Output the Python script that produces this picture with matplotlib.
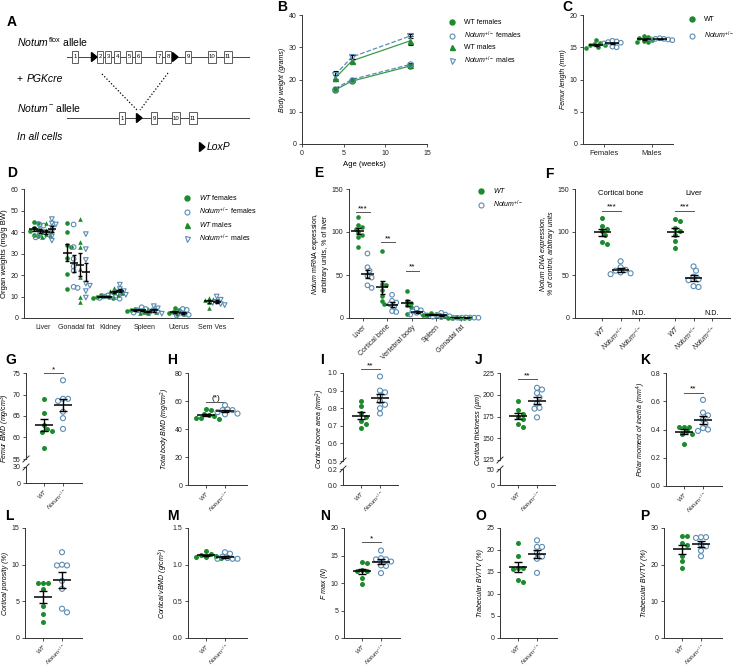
import numpy as np
import matplotlib
matplotlib.use("Agg")
import matplotlib.pyplot as plt
from matplotlib.lines import Line2D
from matplotlib.patches import Rectangle, Polygon
from matplotlib.ticker import FormatStrFormatter

plt.rcParams["font.family"] = "Liberation Sans"
plt.rcParams["mathtext.fontset"] = "custom"
plt.rcParams["mathtext.rm"] = "Liberation Sans"
plt.rcParams["mathtext.it"] = "Liberation Sans:italic"
plt.rcParams["mathtext.bf"] = "Liberation Sans:bold"

W, H = 736, 668
GREEN = "#1d8a2e"
BLUE = "#5b8db3"
LGREEN = "#3a9c48"
AXC = "#333333"
NOT = r"$\mathit{Notum}^{+/-}$"
NOTKO = r"$\mathit{Notum}^{-/-}$"

# ---------------- data ----------------
# A: allele schematic (exon labels and their positions along the gene line)
flox_exons = ["1", "2", "3", "4", "5", "6", "7", "8", "9", "10", "11"]
flox_pos = [75, 100, 108, 117, 129, 138, 159, 168, 188, 212, 228]
flox_loxp = [94, 175]
ko_exons = ["1", "9", "10", "11"]
ko_pos = [122, 154, 176, 193]
ko_loxp = [139]

# B: body weight (mean, SEM)
age_weeks = [4, 6, 13]
bw_wt_f = [16.8, 19.5, 24.2]
bw_wt_f_se = [0.5, 0.4, 0.6]
bw_ko_f = [17.2, 20.0, 24.7]
bw_ko_f_se = [0.4, 0.4, 0.5]
bw_wt_m = [20.5, 25.8, 32.0]
bw_wt_m_se = [1.0, 0.6, 1.4]
bw_ko_m = [21.5, 27.0, 33.5]
bw_ko_m_se = [1.2, 0.6, 0.6]

# C: femur length
sexes = ["Females", "Males"]
fl_wt = [[16.1, 15.6, 15.5, 15.4, 15.3, 15.0, 14.9],
         [16.7, 16.6, 16.4, 16.2, 16.0, 15.8, 15.8]]
fl_ko = [[16.0, 15.9, 15.8, 15.7, 15.6, 15.1, 15.0],
         [16.4, 16.3, 16.3, 16.2, 16.2, 16.1]]

# D: organ weights (mg/g BW)
organs = ["Liver", "Gonadal fat", "Kidney", "Spleen", "Uterus", "Sem Ves"]
ow_wt_f = [[44.5, 44.0, 42.0, 41.0, 40.5, 38.5, 38.0],
           [44.0, 40.0, 34.0, 33.0, 28.0, 20.5, 13.5],
           [10.8, 10.3, 10.0, 9.8, 9.5, 9.2],
           [4.0, 3.8, 3.6, 3.5, 3.3, 3.0],
           [4.5, 3.5, 2.8, 2.3, 2.0, 1.8],
           None]
ow_ko_f = [[43.5, 43.0, 41.0, 40.0, 39.0, 38.0, 37.5],
           [43.5, 33.0, 27.5, 24.0, 22.0, 14.5, 14.0],
           [10.5, 10.2, 10.0, 9.7, 9.3, 9.0],
           [5.0, 4.2, 3.6, 3.2, 2.8, 2.5],
           [4.2, 3.8, 2.5, 1.8, 1.5, 1.2],
           None]
ow_wt_m = [[44.0, 41.0, 40.5, 40.0, 39.0, 38.5, 37.5],
           [46.0, 35.5, 33.0, 23.0, 19.0, 10.0, 7.5],
           [14.0, 13.0, 12.5, 12.0, 11.5, 10.5],
           [4.0, 3.5, 3.0, 2.8, 2.5, 2.2],
           None,
           [9.5, 9.0, 8.5, 8.0, 7.5, 4.5]]
ow_ko_m = [[46.0, 44.0, 43.5, 42.0, 40.0, 38.0, 36.0],
           [39.0, 32.0, 27.0, 16.0, 15.0, 12.5, 9.5],
           [15.5, 13.5, 12.5, 12.0, 11.5, 10.8],
           [5.5, 4.5, 3.5, 3.0, 2.5, 2.0],
           None,
           [10.0, 8.5, 7.5, 7.0, 6.5, 6.0]]

# E: Notum mRNA, % of liver
tissues_e = ["Liver", "Cortical bone", "Vertebral body", "Spleen", "Gonadal fat"]
mrna_wt = [[117, 108, 106, 104, 100, 97, 94, 82],
           [78, 40, 38, 32, 26, 20, 16],
           [31, 20, 18, 15, 13, 5],
           [6, 5, 4, 3.5, 3, 2],
           [0.6, 0.5, 0.4, 0.4, 0.3, 0.3]]
mrna_ko = [[75, 59, 55, 49, 47, 38, 35],
           [27, 20, 18, 16, 13, 8, 7],
           [11, 9, 8, 6, 5, 4, 3],
           [6, 4, 3, 2, 1.5, 1],
           [0.6, 0.5, 0.4, 0.4, 0.3, 0.3, 0.2]]
mrna_sig = [(0, 123, "***"), (1, 88, "**"), (2, 55, "**")]

# F: Notum DNA, % of control
dna_groups = ["Cortical bone", "Liver"]
dna_wt = [[116, 107, 104, 101, 96, 88, 86],
          [115, 113, 105, 101, 96, 90, 81]]
dna_ko = [[66, 59, 56, 55, 53, 52, 51],
          [60, 55, 48, 45, 44, 37, 36]]

# G-P: bone phenotypes (WT, Notum+/-)
g_wt = [69.0, 65.7, 63.0, 62.0, 61.3, 61.5, 57.5]
g_ko = [73.3, 69.0, 69.0, 68.5, 66.0, 64.5, 62.0]
h_wt = [54.0, 53.5, 51.0, 50.0, 49.0, 48.0, 48.0, 47.5]
h_ko = [57.0, 54.0, 53.5, 53.5, 52.0, 51.0, 50.5]
i_wt = [0.84, 0.81, 0.77, 0.75, 0.73, 0.71, 0.69]
i_ko = [0.98, 0.90, 0.89, 0.87, 0.84, 0.82, 0.80, 0.77]
j_wt = [193, 182, 178, 175, 172, 166, 163]
j_ko = [208, 206, 202, 197, 190, 185, 184, 174]
k_wt = [0.42, 0.42, 0.42, 0.39, 0.37, 0.37, 0.30]
k_ko = [0.61, 0.52, 0.50, 0.47, 0.44, 0.41, 0.40, 0.39]
l_wt = [7.5, 7.5, 7.5, 6.75, 4.4, 3.3, 2.25]
l_ko = [11.7, 10.0, 9.9, 9.9, 7.8, 6.7, 4.0, 3.5]
m_wt = [1.18, 1.15, 1.13, 1.12, 1.11, 1.10, 1.09]
m_ko = [1.17, 1.15, 1.11, 1.09, 1.08, 1.08, 1.08]
n_wt = [13.8, 13.6, 12.3, 12.1, 12.1, 10.9, 9.9]
n_ko = [15.9, 14.5, 14.3, 14.3, 13.9, 13.2, 13.1, 11.8]
o_wt = [21.5, 18.7, 16.0, 15.8, 15.7, 13.2, 12.7]
o_ko = [22.2, 20.7, 20.7, 19.3, 18.5, 18.0, 14.8]
p_wt = [27.7, 27.7, 26.0, 25.3, 22.5, 21.0, 19.2]
p_ko = [27.5, 27.5, 27.3, 25.5, 25.0, 23.8, 22.3]

fig = plt.figure(figsize=(W / 100, H / 100), dpi=100)


def px_axes(x0, y0, x1, y1):
    return fig.add_axes([x0 / W, 1 - y1 / H, (x1 - x0) / W, (y1 - y0) / H])


def style(ax, ylabel=None, italic=True, fs=5):
    for s in ("top", "right"):
        ax.spines[s].set_visible(False)
    for s in ("left", "bottom"):
        ax.spines[s].set_linewidth(0.7)
        ax.spines[s].set_color(AXC)
    ax.tick_params(length=2.5, width=0.6, labelsize=5, pad=1.5,
                   color=AXC, labelcolor="#222222")
    if ylabel:
        ax.set_ylabel(ylabel, fontsize=fs, fontstyle="italic" if italic else "normal",
                      labelpad=2)


def swarm_x(ax, xc, vals, d_px=5.0):
    tr = ax.transData
    x0p = tr.transform((xc, 0))[0]
    pxu = tr.transform((xc + 1, 0))[0] - x0p
    step = d_px * 0.5
    cands = [0.0]
    for i in range(1, 30):
        cands += [i * step, -i * step]
    placed, xs = [], []
    for v in vals:
        yp = tr.transform((xc, v))[1]
        for off in cands:
            if all((off - ox) ** 2 + (yp - oy) ** 2 >= (0.95 * d_px) ** 2
                   for ox, oy in placed):
                break
        placed.append((off, yp))
        xs.append(xc + off / pxu)
    return np.array(xs)


def dots(ax, xc, vals, filled, s=13, d_px=5.0, marker="o"):
    xs = swarm_x(ax, xc, vals, d_px)
    if filled:
        ax.scatter(xs, vals, s=s, c=GREEN, lw=0, marker=marker, zorder=3, clip_on=False)
    else:
        ax.scatter(xs, vals, s=s, facecolors="none", edgecolors=BLUE, lw=0.8,
                   marker=marker, zorder=3, clip_on=False)


def mean_sem(ax, xc, vals, hw, cap):
    v = np.asarray(vals, float)
    m = v.mean()
    se = v.std(ddof=1) / np.sqrt(len(v))
    ax.plot([xc - hw, xc + hw], [m, m], color="k", lw=1.1, zorder=5,
            solid_capstyle="butt")
    ax.errorbar([xc], [m], yerr=[se], fmt="none", ecolor="k", elinewidth=1.0,
                capsize=cap, capthick=1.0, zorder=5)


def sig(ax, x0, x1, y, text, fs=6):
    ax.plot([x0, x1], [y, y], color="#555555", lw=0.7, clip_on=False)
    ax.text((x0 + x1) / 2, y, text, ha="center", va="bottom", fontsize=fs,
            clip_on=False)


def legend(ax, entries, x, y, fs=5, spacing=0.5):
    handles, labels = [], []
    for mk, filled, lab in entries:
        if filled:
            h = Line2D([], [], ls="none", marker=mk, ms=3.6, mfc=GREEN, mec=GREEN)
        else:
            h = Line2D([], [], ls="none", marker=mk, ms=3.6, mfc="none", mec=BLUE,
                       mew=0.8)
        handles.append(h)
        labels.append(lab)
    ax.legend(handles, labels, loc="upper left", bbox_to_anchor=(x / W, 1 - y / H),
              bbox_transform=fig.transFigure, frameon=False, fontsize=fs,
              handlelength=0.8, handletextpad=1.3, labelspacing=spacing,
              borderpad=0, borderaxespad=0)


def brk(x, y):
    fig.add_artist(Line2D([(x - 3) / W, (x + 3) / W], [1 - (y + 3) / H, 1 - (y - 3) / H],
                          color=AXC, lw=0.7))


# ---------------- A ----------------
axA = px_axes(0, 0, 250, 165)
axA.set_xlim(0, 250)
axA.set_ylim(165, 0)
axA.axis("off")
axA.text(17, 42, r"$\mathit{Notum}^{\mathrm{flox}}$ allele", fontsize=7.5, va="center")
axA.text(17, 79, "+ ", fontsize=7.5, va="center")
axA.text(27, 79, "PGKcre", fontsize=7.5, va="center", fontstyle="italic")
axA.text(17, 108, r"$\mathit{Notum}^{-}$ allele", fontsize=7.5, va="center")
axA.text(17, 137, "In all cells", fontsize=7.5, va="center", fontstyle="italic")


def gene(y, labels, pos, loxp):
    axA.plot([67, 250], [y, y], color="#444444", lw=0.7)
    for lab, x in zip(labels, pos):
        w = 6 if len(lab) == 1 else 8
        axA.add_patch(Rectangle((x - w / 2, y - 6), w, 12, fc="white", ec="#444444",
                                lw=0.6, zorder=3))
        axA.text(x, y, lab, fontsize=4.3, ha="center", va="center", zorder=4)
    for x in loxp:
        axA.add_patch(Polygon([(x - 2.5, y - 4.5), (x - 2.5, y + 4.5), (x + 3, y)],
                              color="k", zorder=4))


gene(57, flox_exons, flox_pos, flox_loxp)
gene(118, ko_exons, ko_pos, ko_loxp)
axA.plot([102, 137], [74, 110], color="k", lw=0.9, ls=(0, (1, 1.6)))
axA.plot([168, 140], [73, 110], color="k", lw=0.9, ls=(0, (1, 1.6)))
axA.add_patch(Polygon([(199.5, 142.5), (199.5, 151.5), (205, 147)], color="k"))
axA.text(207, 147, "LoxP", fontsize=7.5, va="center", fontstyle="italic")

# ---------------- B ----------------
axB = px_axes(302, 15, 427, 144)
style(axB, "Body weight (grams)")
for vals, se, filled, mk, ls, col in [
        (bw_wt_f, bw_wt_f_se, True, "o", "-", LGREEN),
        (bw_ko_f, bw_ko_f_se, False, "o", "--", BLUE),
        (bw_wt_m, bw_wt_m_se, True, "^", "-", LGREEN),
        (bw_ko_m, bw_ko_m_se, False, "v", "--", BLUE)]:
    axB.plot(age_weeks, vals, ls=ls, color=col, lw=0.9, zorder=2)
    axB.errorbar(age_weeks, vals, yerr=se, fmt="none", ecolor="k", elinewidth=0.8,
                 capsize=1.8, capthick=0.8, zorder=3)
    if filled:
        axB.plot(age_weeks, vals, ls="none", marker=mk, ms=3.6, mfc=GREEN, mec=GREEN,
                 zorder=4)
    else:
        axB.plot(age_weeks, vals, ls="none", marker=mk, ms=3.8, mfc="none", mec=BLUE,
                 mew=0.8, zorder=4)
axB.set_xlim(0, 15)
axB.set_ylim(0, 40)
axB.set_xticks([0, 5, 10, 15])
axB.set_yticks([0, 10, 20, 30, 40])
axB.set_xlabel("Age (weeks)", fontsize=5.5, labelpad=3)
legend(axB, [("o", True, "WT females"), ("o", False, NOT + " females"),
             ("^", True, "WT males"), ("v", False, NOT + " males")], 449, 19)

# ---------------- C ----------------
axC = px_axes(583, 15, 673, 144)
style(axC, "Femur length (mm)")
axC.set_xlim(-0.45, 1.45)
axC.set_ylim(0, 20)
axC.set_yticks([0, 5, 10, 15, 20])
axC.set_xticks([0, 1])
axC.set_xticklabels(sexes, fontsize=5.5)
for i in range(2):
    dots(axC, i - 0.17, fl_wt[i], True, s=11, d_px=4.2)
    dots(axC, i + 0.17, fl_ko[i], False, s=11, d_px=4.2)
    mean_sem(axC, i - 0.17, fl_wt[i], 0.15, 1.8)
    mean_sem(axC, i + 0.17, fl_ko[i], 0.15, 1.8)
legend(axC, [("o", True, "WT"), ("o", False, NOT)], 689, 16, spacing=0.9)

# ---------------- D ----------------
axD = px_axes(24, 189, 233, 318)
style(axD, "Organ weights (mg/g BW)", italic=False, fs=5.5)
axD.set_xlim(-0.55, 5.6)
axD.set_ylim(0, 60)
axD.set_yticks(range(0, 61, 10))
axD.set_xticks(range(len(organs)))
axD.set_xticklabels(organs, fontsize=5)
axD.tick_params(axis="x", length=0, pad=4)
groups = [(ow_wt_f, True, "o", -0.27), (ow_ko_f, False, "o", -0.09),
          (ow_wt_m, True, "^", 0.09), (ow_ko_m, False, "v", 0.27)]
for i in range(len(organs)):
    present = [g for g in groups if g[0][i] is not None]
    for k, (data, filled, mk, off) in enumerate(present):
        if len(present) == 2:
            off = -0.12 if k == 0 else 0.12
        dots(axD, i + off, data[i], filled, s=11, d_px=4.0, marker=mk)
        mean_sem(axD, i + off, data[i], 0.12, 1.5)
legend(axD, [("o", True, r"$\mathit{WT}$ females"), ("o", False, NOT + " females"),
             ("^", True, r"$\mathit{WT}$ males"), ("v", False, NOT + " males")], 184, 193)

# ---------------- E ----------------
axE = px_axes(349, 189, 472, 318)
style(axE, r"$\mathit{Notum}$ mRNA expression," + "\narbitrary units, % of liver",
      italic=False, fs=5)
axE.set_xlim(-0.55, 4.45)
axE.set_ylim(0, 150)
axE.set_yticks([0, 50, 100, 150])
axE.set_xticks(range(len(tissues_e)))
axE.set_xticklabels(tissues_e, rotation=45, ha="right", rotation_mode="anchor",
                    fontsize=5)
for i in range(len(tissues_e)):
    dots(axE, i - 0.2, mrna_wt[i], True, s=11, d_px=4.2)
    dots(axE, i + 0.2, mrna_ko[i], False, s=11, d_px=4.2)
    mean_sem(axE, i - 0.2, mrna_wt[i], 0.25, 1.8)
    mean_sem(axE, i + 0.2, mrna_ko[i], 0.25, 1.8)
for i, y, t in mrna_sig:
    sig(axE, i - 0.25, i + 0.3, y, t)
legend(axE, [("o", True, r"$\mathit{WT}$"), ("o", False, NOT)], 478, 186, spacing=0.5)

# ---------------- F ----------------
axF = px_axes(575, 189, 730, 318)
style(axF, "Notum DNA expression,\n% of control, arbitrary units", fs=5)
axF.set_xlim(-1.5, 7)
axF.set_ylim(0, 150)
axF.set_yticks([0, 50, 100, 150])
axF.set_xticks([0, 1, 2, 4, 5, 6])
axF.set_xticklabels([r"$\mathit{WT}$", NOT, NOTKO] * 2, rotation=45, ha="right",
                    rotation_mode="anchor", fontsize=5)
for g, base in enumerate([0, 4]):
    dots(axF, base, dna_wt[g], True, s=13, d_px=5)
    dots(axF, base + 1, dna_ko[g], False, s=13, d_px=5)
    mean_sem(axF, base, dna_wt[g], 0.45, 3)
    mean_sem(axF, base + 1, dna_ko[g], 0.45, 3)
    axF.text(base + 2, 1, "N.D.", fontsize=5, ha="center", va="bottom")
    sig(axF, base, base + 1, 125, "***")
    axF.text(base + 1, 145, dna_groups[g], fontsize=5.5, ha="center", va="center")


# ---------------- G-P ----------------
def bone_panel(rect, wt, ko, ylim, yticks, ylabel, fmt=None, sig_spec=None,
               broken=None, lab_px=14):
    x0, y0, x1, y1 = rect
    w = x1 - x0
    xlim = (-18 / 19, (w - 18) / 19)
    if broken is None:
        ax = px_axes(x0, y0, x1, y1)
        axb = ax
        style(ax, ylabel)
    else:
        top_bot, bot_top, blim, bticks = broken
        ax = px_axes(x0, y0, x1, top_bot)
        axb = px_axes(x0, bot_top, x1, y1)
        style(ax)
        style(axb)
        ax.spines["bottom"].set_visible(False)
        ax.tick_params(axis="x", bottom=False, labelbottom=False)
        axb.set_ylim(*blim)
        axb.set_yticks(bticks)
        axb.set_xlim(*xlim)
        ax.set_ylabel(ylabel, fontsize=5, fontstyle="italic", labelpad=2)
        ax.yaxis.set_label_coords(-lab_px / w, (top_bot - (y0 + y1) / 2) / (top_bot - y0))
        brk(x0, top_bot)
        brk(x0, bot_top)
        if fmt:
            axb.yaxis.set_major_formatter(FormatStrFormatter(fmt))
    ax.set_xlim(*xlim)
    ax.set_ylim(*ylim)
    ax.set_yticks(yticks)
    if fmt:
        ax.yaxis.set_major_formatter(FormatStrFormatter(fmt))
    axb.set_xticks([0, 1])
    axb.set_xticklabels([r"$\mathit{WT}$", NOT], rotation=45, ha="right",
                        rotation_mode="anchor", fontsize=4.3)
    axb.tick_params(axis="x", pad=0.8, length=2)
    dots(ax, 0, wt, True)
    dots(ax, 1, ko, False)
    mean_sem(ax, 0, wt, 0.45, 3)
    mean_sem(ax, 1, ko, 0.45, 3)
    if sig_spec:
        sig(ax, 0, 1, sig_spec[0], sig_spec[1])
    return ax


bone_panel((26, 373, 82, 483), g_wt, g_ko, (55, 75), [55, 60, 65, 70, 75],
           "Femur BMD (mg/cm$^3$)", sig_spec=(75, "*"),
           broken=(459, 467, (0, 30), [0, 30]), lab_px=14)
bone_panel((188, 373, 247, 485), h_wt, h_ko, (0, 80), [0, 20, 40, 60, 80],
           "Total body BMD (mg/cm$^2$)", sig_spec=(59, "(*)"))
bone_panel((343, 373, 398, 485), i_wt, i_ko, (0.5, 1.0), [0.5, 0.6, 0.7, 0.8, 0.9, 1.0],
           "Cortical bone area (mm$^2$)", fmt="%.1f", sig_spec=(1.02, "**"),
           broken=(461, 469, (0, 0.2), [0.0, 0.2]), lab_px=16)
bone_panel((500, 373, 555, 485), j_wt, j_ko, (125, 225), [125, 150, 175, 200, 225],
           "Cortical thickness (µm)", sig_spec=(218, "**"),
           broken=(460, 469, (0, 50), [0, 50]), lab_px=17.5)
bone_panel((666, 373, 722, 486), k_wt, k_ko, (0, 0.8), [0, 0.2, 0.4, 0.6, 0.8],
           "Polar moment of inertia (mm$^4$)", fmt="%.1f", sig_spec=(0.66, "**"))
bone_panel((25, 528, 82, 638), l_wt, l_ko, (0, 15), [0, 5, 10, 15],
           "Cortical porosity (%)")
bone_panel((188, 528, 247, 638), m_wt, m_ko, (0, 1.5), [0, 0.5, 1.0, 1.5],
           "Cortical vBMD (g/cm$^3$)", fmt="%.1f")
bone_panel((344, 528, 400, 638), n_wt, n_ko, (0, 20), [0, 5, 10, 15, 20],
           "F max (N)", sig_spec=(17.4, "*"))
bone_panel((500, 528, 557, 638), o_wt, o_ko, (0, 25), [0, 5, 10, 15, 20, 25],
           "Trabecular BV/TV (%)")
bone_panel((664, 528, 722, 638), p_wt, p_ko, (0, 30), [0, 10, 20, 30],
           "Trabecular BV/TV (%)")

# panel letters
letters = [("A", 7, 22), ("B", 277, 7), ("C", 562, 7), ("D", 7, 173), ("E", 314, 173),
           ("F", 545, 174), ("G", 5, 360), ("H", 167, 360), ("I", 320, 360),
           ("J", 475, 360), ("K", 640, 360), ("L", 5, 516), ("M", 167, 516),
           ("N", 320, 516), ("O", 475, 516), ("P", 640, 516)]
for s, x, y in letters:
    fig.text(x / W, 1 - y / H, s, fontsize=10, fontweight="bold", ha="left", va="center")

fig.savefig("out.png", dpi=100)
